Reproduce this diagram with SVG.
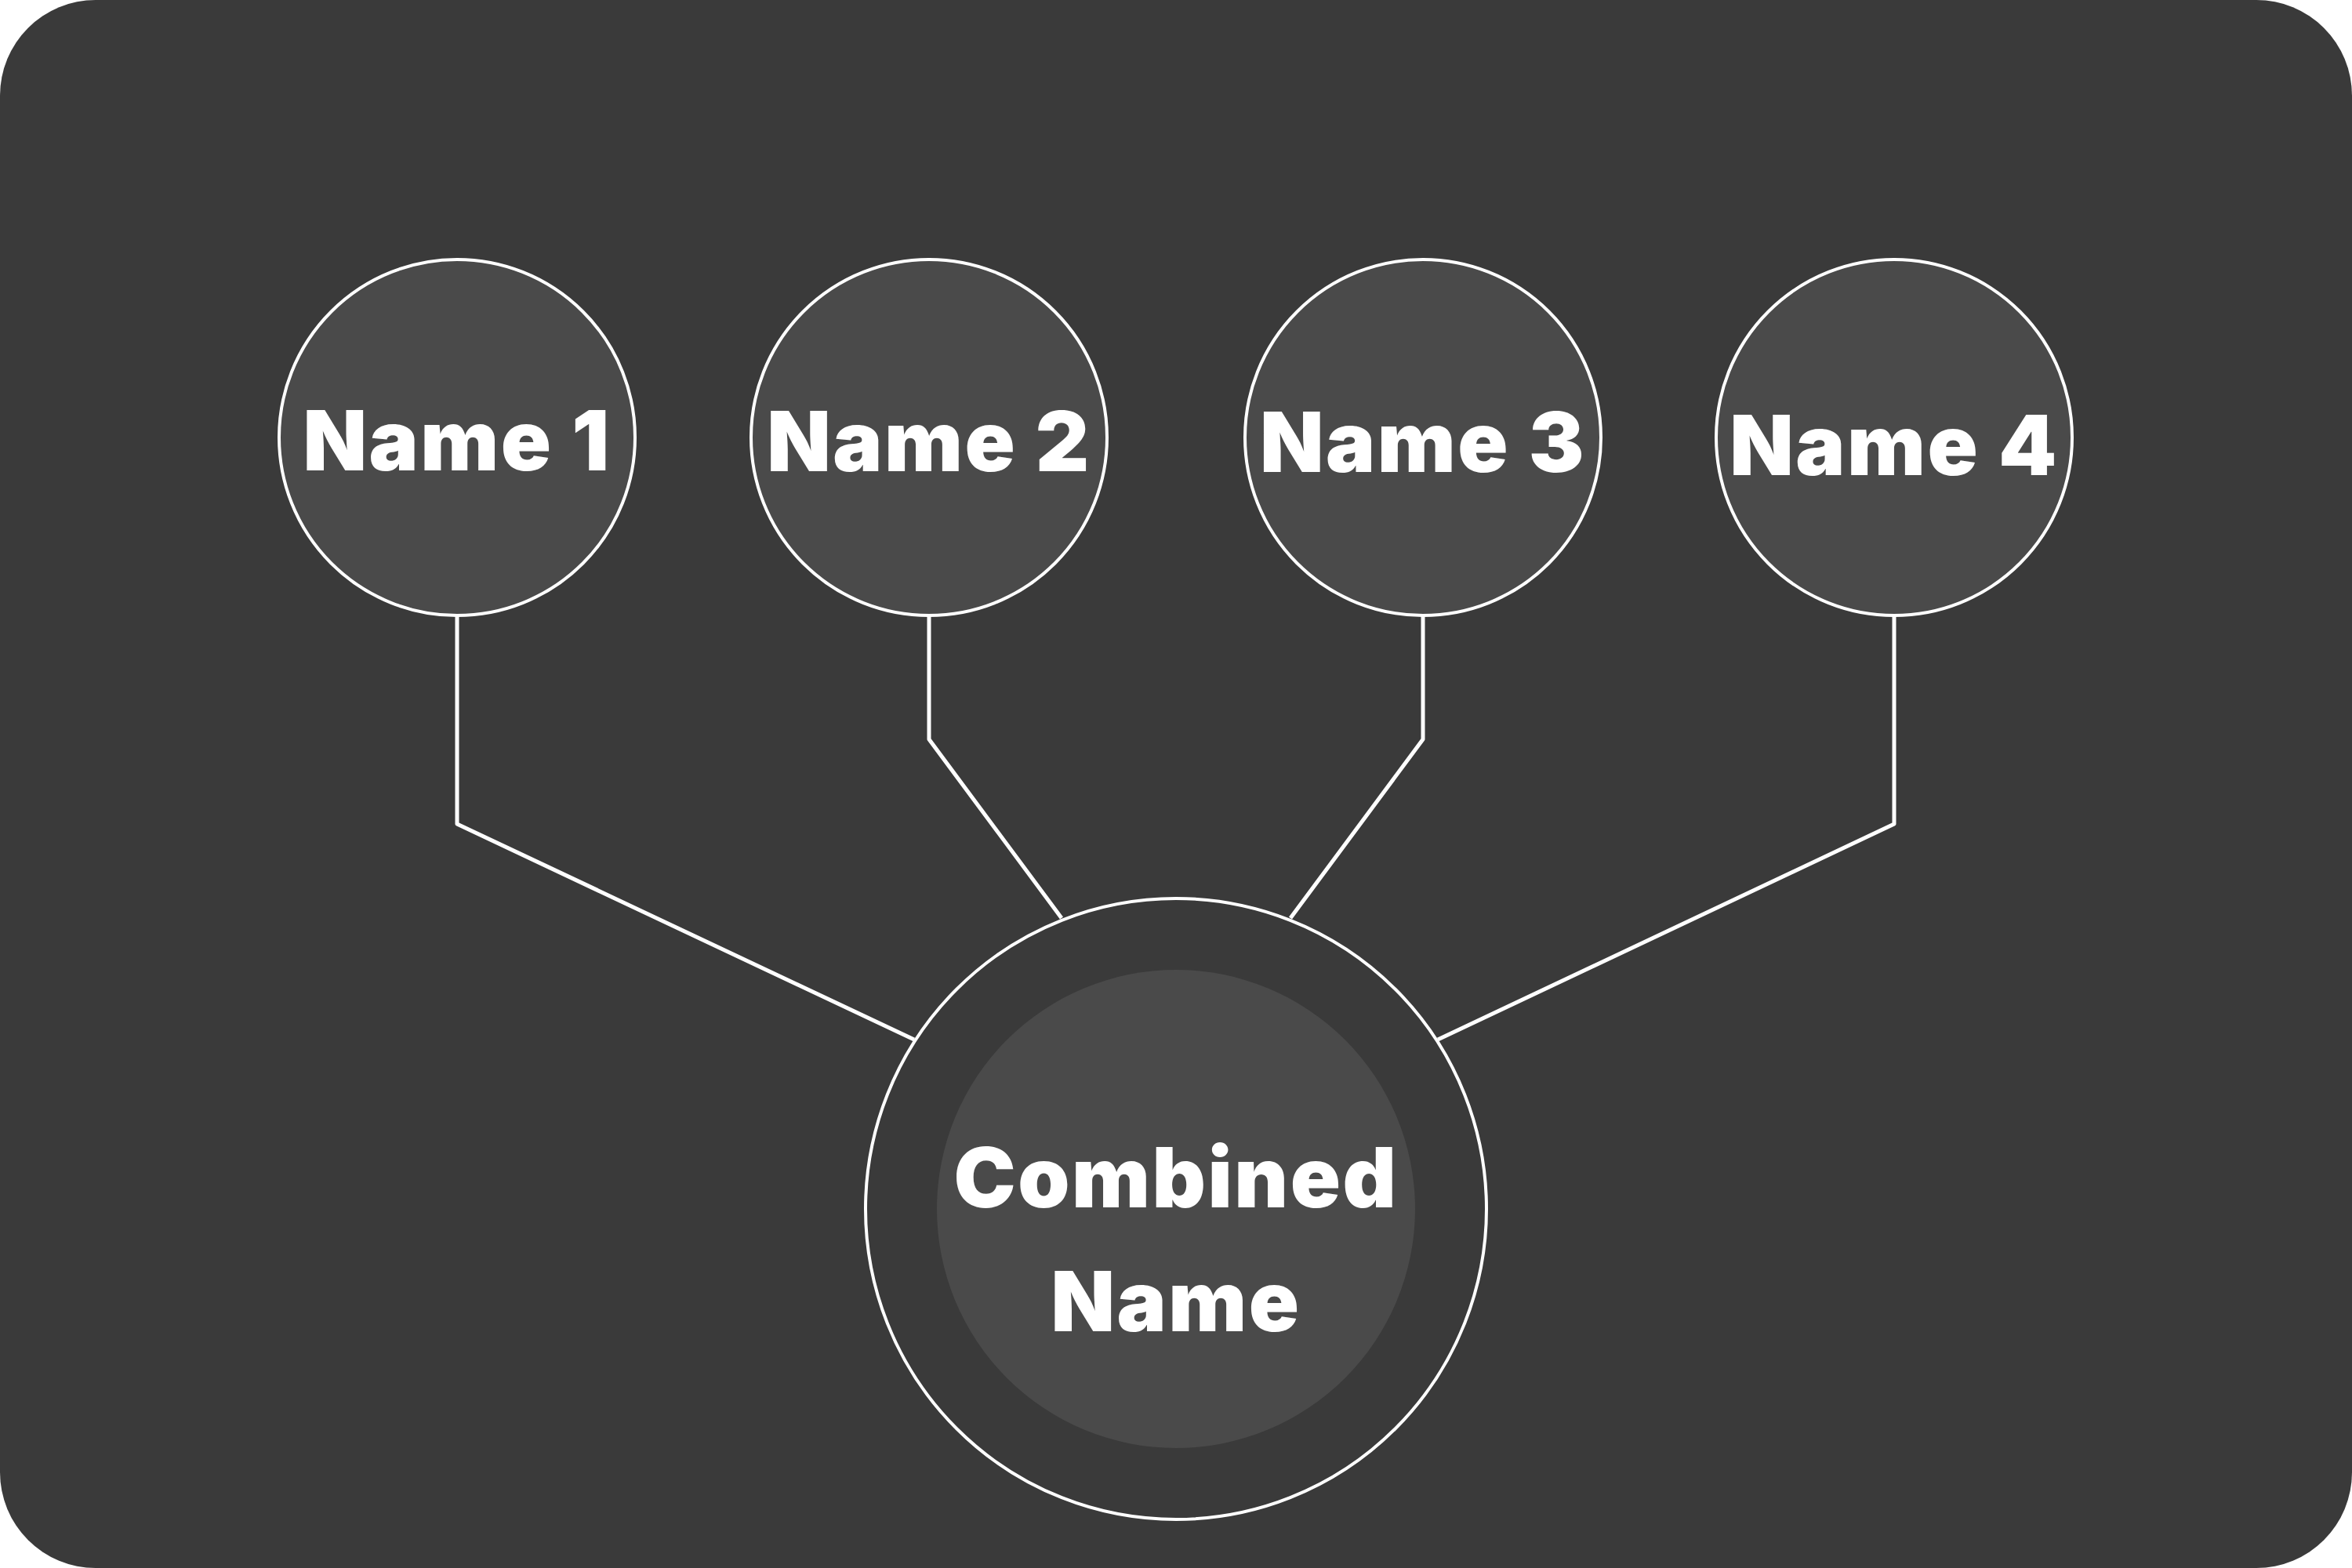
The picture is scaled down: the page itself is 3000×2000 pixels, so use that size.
<svg xmlns="http://www.w3.org/2000/svg" width="3000" height="2000" viewBox="0 0 3000 2000">
<style>
.node{fill:#4a4a4a;stroke:#ffffff;stroke-width:4}
.lbl{fill:#ffffff;font-family:Inter,"Liberation Sans",sans-serif;font-weight:900;font-size:106px;text-anchor:middle;letter-spacing:2.5px}
.conn{fill:none;stroke:#ffffff;stroke-width:5;stroke-linejoin:round}
</style>
<rect x="0" y="0" width="3000" height="2000" fill="#ffffff"/>
<rect id="background" x="0" y="0" width="3000" height="2000" rx="122" ry="122" fill="#3a3a3a"/>
<g id="connectors">
<polyline class="conn" points="583,786 583,1051 1166,1326"/>
<polyline class="conn" points="1185,786 1185,943 1354,1171"/>
<polyline class="conn" points="1815,786 1815,943 1646,1171"/>
<polyline class="conn" points="2416,786 2416,1051 1834,1326"/>
</g>
<g id="node-name1">
<circle class="node" cx="583" cy="558" r="227"/>
<text class="lbl" x="583" y="600">Name 1</text>
</g>
<g id="node-name2">
<circle class="node" cx="1185" cy="558" r="227"/>
<text class="lbl" x="1185" y="601">Name 2</text>
</g>
<g id="node-name3">
<circle class="node" cx="1815" cy="558" r="227"/>
<text class="lbl" x="1815" y="602">Name 3</text>
</g>
<g id="node-name4">
<circle class="node" cx="2416" cy="558" r="227"/>
<text class="lbl" x="2416" y="606">Name 4</text>
</g>
<g id="node-combined">
<circle cx="1500" cy="1542" r="396" fill="#3a3a3a" stroke="#ffffff" stroke-width="4"/>
<circle cx="1500" cy="1542" r="305" fill="#4a4a4a"/>
<text class="lbl" x="1500" y="1540">Combined</text>
<text class="lbl" x="1500" y="1698">Name</text>
</g>
</svg>
